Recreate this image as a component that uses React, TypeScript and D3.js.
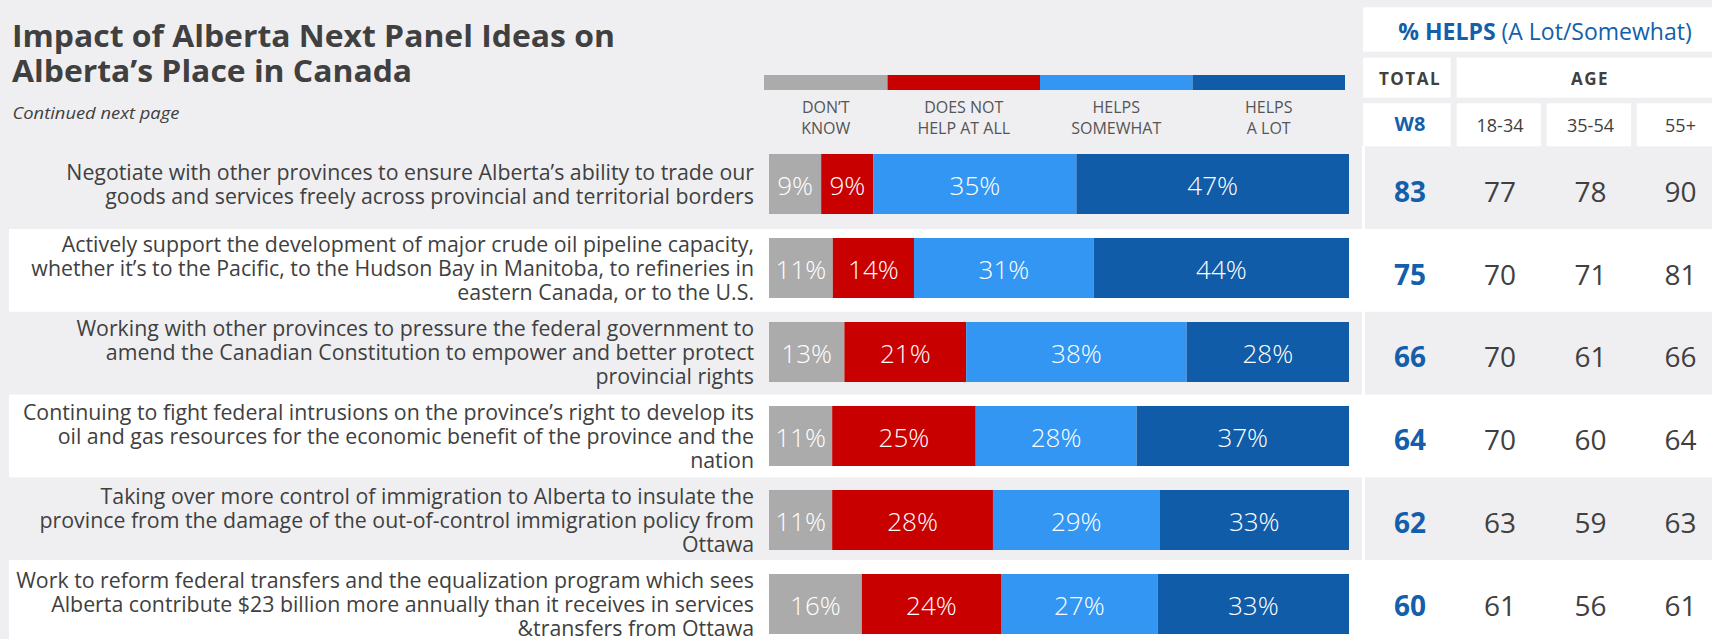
import React, { useEffect, useRef } from "react";
import * as d3 from "d3";

const W = 1712;
const H = 639;
const FONT = "'Open Sans', 'Noto Sans', sans-serif";

const titleLines = ["Impact of Alberta Next Panel Ideas on", "Alberta’s Place in Canada"];
const subtitle = "Continued next page";

const statements: string[][] = [
  ["Negotiate with other provinces to ensure Alberta’s ability to trade our", "goods and services freely across provincial and territorial borders"],
  ["Actively support the development of major crude oil pipeline capacity,", "whether it’s to the Pacific, to the Hudson Bay in Manitoba, to refineries in", "eastern Canada, or to the U.S."],
  ["Working with other provinces to pressure the federal government to", "amend the Canadian Constitution to empower and better protect", "provincial rights"],
  ["Continuing to fight federal intrusions on the province’s right to develop its", "oil and gas resources for the economic benefit of the province and the", "nation"],
  ["Taking over more control of immigration to Alberta to insulate the", "province from the damage of the out-of-control immigration policy from", "Ottawa"],
  ["Work to reform federal transfers and the equalization program which sees", "Alberta contribute $23 billion more annually than it receives in services", "&transfers from Ottawa"],
];

const seriesKeys = ["dk", "nh", "hs", "hl"];
const seriesLabels = [["DON’T", "KNOW"], ["DOES NOT", "HELP AT ALL"], ["HELPS", "SOMEWHAT"], ["HELPS", "A LOT"]];
const seriesColors = ["#ababab", "#c80000", "#3296f2", "#115ca8"];
const legendWeights = [0.81, 1, 1, 1];

const dontKnow = [9, 11, 13, 11, 11, 16];
const notHelp = [9, 14, 21, 25, 28, 24];
const helpsSomewhat = [35, 31, 38, 28, 29, 27];
const helpsALot = [47, 44, 28, 37, 33, 33];

const tableTitleBold = "% HELPS";
const tableTitleRest = " (A Lot/Somewhat)";
const totalHeader = "TOTAL";
const ageHeader = "AGE";
const totalCol = "W8";
const ageCols = ["18-34", "35-54", "55+"];
const totalW8 = [83, 75, 66, 64, 62, 60];
const age1834 = [77, 70, 70, 70, 63, 61];
const age3554 = [78, 71, 61, 60, 59, 56];
const age55 = [90, 81, 66, 64, 63, 61];

const TEXT = "#404040";
const BLUE = "#145fab";
const BG = "#efeff2";

export default function App() {
  const ref = useRef<SVGSVGElement>(null);

  useEffect(() => {
    const svg = d3.select(ref.current);
    svg.selectAll("*").remove();
    svg.append("rect").attr("width", W).attr("height", H).attr("fill", BG);

    const n = statements.length;
    const rows = d3.range(n);
    // background bands (table rows) and bar rows
    const band = d3.scaleBand<number>().domain(rows).range([146.25, 146.25 + 82.75 * n]).padding(0);
    const barRow = d3.scaleBand<number>().domain(rows).range([146, 146 + 84 * n]).padding(0);
    const barH = 60;
    const barTop = (i: number) => barRow(i)! + 8;
    const barMid = (i: number) => barTop(i) + barH / 2;

    // white bands on alternating rows
    svg.append("g").selectAll("rect").data(rows.filter((i) => i % 2 === 1)).join("rect")
      .attr("x", 9).attr("y", (i) => band(i)!).attr("width", W - 9).attr("height", band.bandwidth()).attr("fill", "#ffffff");
    // white strip at table's left edge
    svg.append("rect").attr("x", 1362).attr("y", 146.25).attr("width", 3).attr("height", H - 146).attr("fill", "#ffffff");

    // title
    const tg = svg.append("g");
    titleLines.forEach((t) => {
      tg.append("text").attr("x", 0).attr("y", 0).attr("font-family", FONT).attr("font-size", 30)
        .attr("font-weight", 700).attr("fill", TEXT).text(t);
    });
    const firstLen = (tg.select("text").node() as SVGTextElement).getComputedTextLength();
    const tsx = firstLen > 0 ? 603 / firstLen : 1;
    tg.selectAll("text").attr("transform", (_d, k) => `translate(12,${46.7 + 35 * k}) scale(${tsx},1)`);

    const sub = svg.append("text").attr("font-family", FONT).attr("font-size", 16).attr("font-style", "italic")
      .attr("fill", TEXT).text(subtitle);
    const subLen = (sub.node() as SVGTextElement).getComputedTextLength();
    sub.attr("transform", `translate(12.5,118.5) scale(${subLen > 0 ? 167 / subLen : 1},1)`);

    // legend
    const cum = [0, ...d3.cumsum(legendWeights)];
    const lx = d3.scaleLinear().domain([0, cum[cum.length - 1]]).range([764, 1345]);
    const lg = svg.append("g");
    seriesKeys.forEach((_k, j) => {
      lg.append("rect").attr("x", lx(cum[j])).attr("y", 75).attr("width", lx(cum[j + 1]) - lx(cum[j])).attr("height", 15)
        .attr("fill", seriesColors[j]);
      const cx = (lx(cum[j]) + lx(cum[j + 1])) / 2;
      seriesLabels[j].forEach((s, m) => {
        lg.append("text").attr("x", cx).attr("y", 112.7 + 21.6 * m).attr("text-anchor", "middle")
          .attr("font-family", FONT).attr("font-size", 16).attr("fill", "#555555").text(s);
      });
    });

    // bars
    const data = rows.map((i) => ({ dk: dontKnow[i], nh: notHelp[i], hs: helpsSomewhat[i], hl: helpsALot[i] }));
    const stack = d3.stack<any>().keys(seriesKeys).offset(d3.stackOffsetExpand);
    const stacked = stack(data);
    const x = d3.scaleLinear().domain([0, 1]).range([769, 1349]);
    const bg = svg.append("g");
    stacked.forEach((layer, j) => {
      const g = bg.append("g");
      g.selectAll("rect").data(layer).join("rect")
        .attr("x", (d) => x(d[0])).attr("width", (d) => x(d[1]) - x(d[0]))
        .attr("y", (_d, i) => barTop(i)).attr("height", barH)
        .attr("fill", seriesColors[j]);
      g.selectAll("text").data(layer).join("text")
        .attr("x", (d) => (x(d[0]) + x(d[1])) / 2)
        .attr("y", (_d, i) => barMid(i) + 10.5)
        .attr("text-anchor", "middle").attr("font-family", FONT).attr("font-size", 26).attr("font-weight", 300)
        .attr("fill", "#ffffff")
        .text((_d, i) => `${(data[i] as any)[seriesKeys[j]]}%`);
    });

    // statement labels
    const labG = svg.append("g");
    const labelEls: any[] = [];
    statements.forEach((lines, i) => {
      const cy = barMid(i);
      lines.forEach((s, k) => {
        const yy = cy + (k - (lines.length - 1) / 2) * 24 + 7.5;
        const el = labG.append("text").attr("text-anchor", "end").attr("font-family", FONT).attr("font-size", 21)
          .attr("fill", TEXT).attr("data-y", yy).text(s);
        labelEls.push(el);
      });
    });
    const refLine = labelEls.find((e) => e.text().startsWith("Work to reform"));
    const refLen = refLine ? (refLine.node() as SVGTextElement).getComputedTextLength() : 0;
    const lsx = refLen > 0 ? 738 / refLen : 1;
    labelEls.forEach((e) => e.attr("transform", `translate(754,${e.attr("data-y")}) scale(${lsx},1)`));

    // table header
    const th = svg.append("g");
    th.append("rect").attr("x", 1363).attr("y", 7.3).attr("width", W - 1363).attr("height", 44.4).attr("fill", "#fff");
    const tt = th.append("text").attr("x", 1545).attr("y", 40).attr("text-anchor", "middle").attr("font-family", FONT)
      .attr("font-size", 23).attr("fill", BLUE);
    tt.append("tspan").attr("font-weight", 700).text(tableTitleBold);
    tt.append("tspan").attr("font-weight", 400).text(tableTitleRest);

    th.append("rect").attr("x", 1363).attr("y", 57.7).attr("width", 87.7).attr("height", 40).attr("fill", "#fff");
    th.append("rect").attr("x", 1456.7).attr("y", 57.7).attr("width", W - 1456.7).attr("height", 40).attr("fill", "#fff");
    th.append("text").attr("x", 1410).attr("y", 85).attr("text-anchor", "middle").attr("font-family", FONT)
      .attr("font-size", 17).attr("font-weight", 700).attr("letter-spacing", 1.5).attr("fill", TEXT).text(totalHeader);
    th.append("text").attr("x", 1590).attr("y", 85).attr("text-anchor", "middle").attr("font-family", FONT)
      .attr("font-size", 17).attr("font-weight", 700).attr("letter-spacing", 1.5).attr("fill", TEXT).text(ageHeader);

    const colX = [1410, 1500, 1590.5, 1680.5];
    const colBox = [[1363, 87.7], [1456.7, 84.3], [1546.7, 84.3], [1636.7, 84.3]];
    colBox.forEach(([bx, bw]) => {
      th.append("rect").attr("x", bx).attr("y", 103.3).attr("width", bw).attr("height", 43).attr("fill", "#fff");
    });
    th.append("text").attr("x", colX[0]).attr("y", 130.5).attr("text-anchor", "middle").attr("font-family", FONT)
      .attr("font-size", 20).attr("font-weight", 700).attr("fill", BLUE).text(totalCol);
    ageCols.forEach((c, j) => {
      th.append("text").attr("x", colX[j + 1]).attr("y", 131.5).attr("text-anchor", "middle").attr("font-family", FONT)
        .attr("font-size", 18).attr("fill", TEXT).text(c);
    });

    // table values
    const cols = [totalW8, age1834, age3554, age55];
    const tv = svg.append("g");
    cols.forEach((vals, j) => {
      tv.append("g").selectAll("text").data(vals).join("text")
        .attr("x", colX[j]).attr("y", (_d, i) => band(i)! + 55.7).attr("text-anchor", "middle")
        .attr("font-family", FONT).attr("font-size", 28).attr("font-weight", j === 0 ? 700 : 400)
        .attr("fill", j === 0 ? BLUE : TEXT).text((d) => String(d));
    });
  }, []);

  return (
    <svg ref={ref} width={W} height={H} style={{ position: "fixed", left: 0, top: 0, display: "block" }} />
  );
}
